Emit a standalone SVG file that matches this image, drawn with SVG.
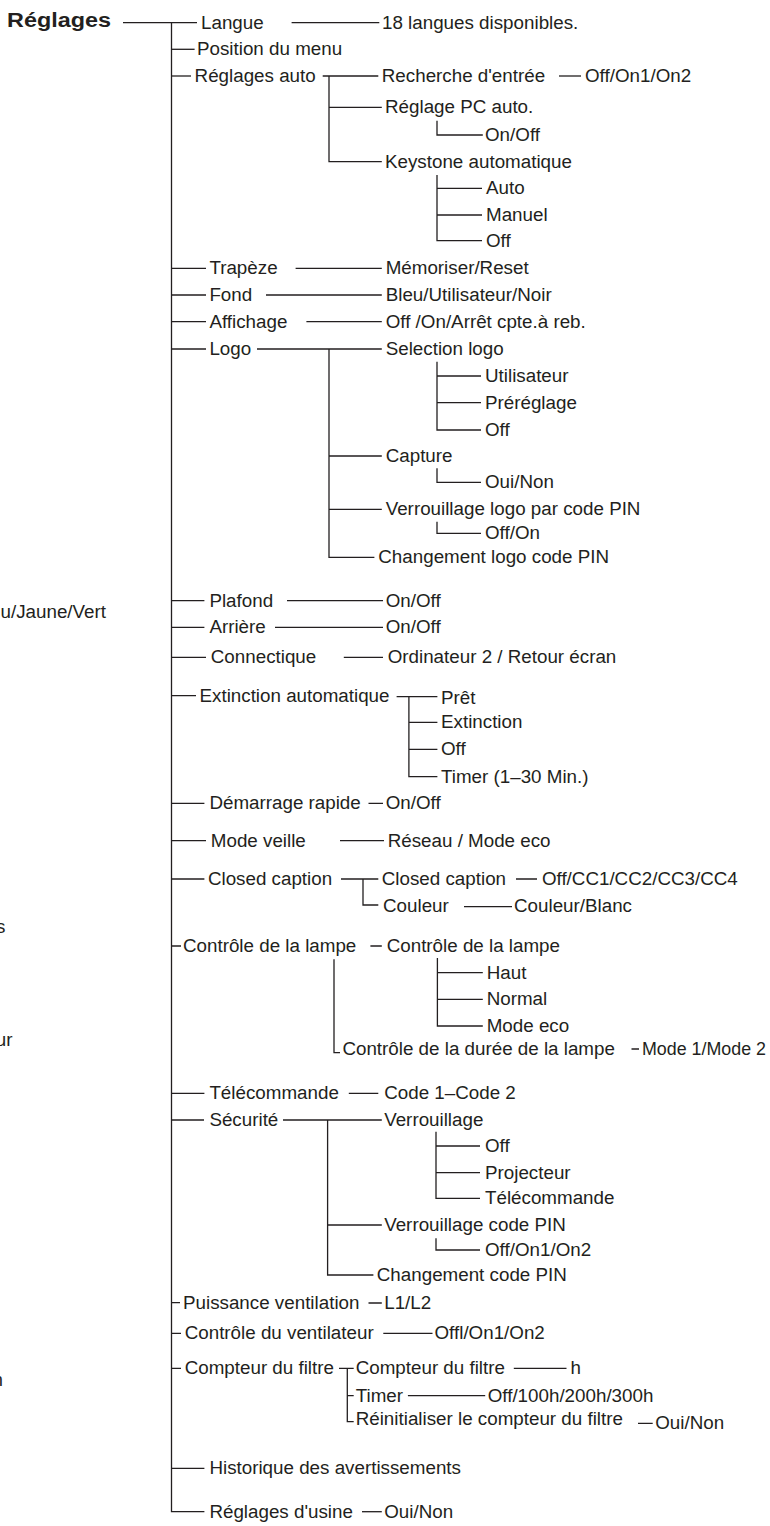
<svg xmlns="http://www.w3.org/2000/svg" width="770" height="1526" viewBox="0 0 770 1526">
<style>
text{font-family:"Liberation Sans",Arial,sans-serif;font-size:18.8px;fill:#231f20}
.title{font-weight:bold;font-size:19.5px}
#connectors path{fill:none;stroke:#231f20;stroke-width:1.3}
</style>
<rect width="770" height="1526" fill="#fff"/>
<g id="connectors">
<path d="M123,22.7H197"/>
<path d="M171.5,22.7V1511.7H204.4"/>
<path d="M291.6,22.7H379.3"/>
<path d="M171.5,49.3H194.6"/>
<path d="M171.5,76H191"/>
<path d="M322.7,76H378.3M329,76V161.7H381.8M329,107.3H381.8"/>
<path d="M559,76H581"/>
<path d="M437,120.7V135H482.8"/>
<path d="M437,175V240.7H482M437,188.3H482M437,215H482"/>
<path d="M171.5,268.3H206M295.6,268.3H381.8"/>
<path d="M171.5,295H206M266,295H381.8"/>
<path d="M171.5,321.7H206M306.4,321.7H381.8"/>
<path d="M171.5,349H206M257,349H381.8M329,349V557.3H374.4M329,456H381.8M329,509.3H381.8"/>
<path d="M437,361.7V430H481M437,376H481M437,402.7H481"/>
<path d="M437,468.3V482.3H481"/>
<path d="M437,521.7V533.3H481"/>
<path d="M171.5,600.7H204.4M287,600.7H383"/>
<path d="M171.5,627.3H204.4M275,627.3H383"/>
<path d="M171.5,657.3H206M343.8,657.3H383"/>
<path d="M171.5,695.7H196M396.6,696.7H437.4M408.9,696.7V776.7H437.4M408.9,722.3H437.4M408.9,749.3H437.4"/>
<path d="M171.5,803.3H204.4M368.5,803.3H383"/>
<path d="M171.5,840.7H206M340,840.7H384"/>
<path d="M171.5,879H204.4M341,879H378.3M363,879V905H378.3M516,879H537M464,906.7H512"/>
<path d="M171.5,946H181M370.4,946H381.8M334,959.3V1052.7H340"/>
<path d="M437.4,958V1026H482.8M437.4,972.7H482.8M437.4,999.3H482.8M631.5,1049H639"/>
<path d="M171.5,1093.3H204.4M348.8,1093.3H378.3"/>
<path d="M171.5,1120H204M283,1120H381.8M327.6,1120V1275H373.4M327.6,1225H381.8"/>
<path d="M436,1131.7V1198.3H480M436,1146H480M436,1172.7H480M436,1238.3V1250H480"/>
<path d="M171.5,1302.7H180M368.5,1303H381.8"/>
<path d="M171.5,1333.3H181M383.3,1333.3H432.5"/>
<path d="M171.5,1368.3H181M339,1368.3H353.7M347.3,1368.3V1421.7H353.7M347.3,1395.7H353.7M513.8,1368.3H566.5M407.9,1395.7H485.2M638,1423.3H652.7"/>
<path d="M171.5,1468.3H204.4"/>
<path d="M362,1511.7H381.8"/>
</g>
<g id="fragments">
<text x="106" y="618" text-anchor="end">u/Jaune/Vert</text>
<text x="5.5" y="933" text-anchor="end">s</text>
<text x="12.5" y="1046" text-anchor="end">ur</text>
<text x="3" y="1386" text-anchor="end">n</text>
</g>
<g id="n-reglages"><text class="title" x="7" y="27" textLength="104" lengthAdjust="spacingAndGlyphs">Réglages</text></g>
<g id="n-langue"><text x="201" y="28.7">Langue</text></g>
<g id="n-langue-v"><text x="382" y="28.7">18 langues disponibles.</text></g>
<g id="n-position"><text x="197" y="55.3">Position du menu</text></g>
<g id="n-auto"><text x="194.6" y="82">Réglages auto</text></g>
<g id="n-recherche"><text x="381.8" y="82">Recherche d'entrée</text></g>
<g id="n-recherche-v"><text x="585" y="82">Off/On1/On2</text></g>
<g id="n-pcauto"><text x="385" y="113.3">Réglage PC auto.</text></g>
<g id="n-pcauto-v"><text x="485" y="141">On/Off</text></g>
<g id="n-keystone"><text x="385" y="167.7">Keystone automatique</text></g>
<g id="n-ks-auto"><text x="486" y="194.3">Auto</text></g>
<g id="n-ks-manuel"><text x="486" y="221">Manuel</text></g>
<g id="n-ks-off"><text x="486" y="246.7">Off</text></g>
<g id="n-trapeze"><text x="209.4" y="274.3">Trapèze</text></g>
<g id="n-trapeze-v"><text x="385.7" y="274.3">Mémoriser/Reset</text></g>
<g id="n-fond"><text x="209.4" y="301">Fond</text></g>
<g id="n-fond-v"><text x="385.7" y="301">Bleu/Utilisateur/Noir</text></g>
<g id="n-affichage"><text x="209.4" y="327.7">Affichage</text></g>
<g id="n-affichage-v"><text x="385.7" y="327.7">Off /On/Arrêt cpte.à reb.</text></g>
<g id="n-logo"><text x="209.4" y="355">Logo</text></g>
<g id="n-sellogo"><text x="385.7" y="355">Selection logo</text></g>
<g id="n-sl-util"><text x="485" y="382">Utilisateur</text></g>
<g id="n-sl-pre"><text x="485" y="408.7">Préréglage</text></g>
<g id="n-sl-off"><text x="485" y="436">Off</text></g>
<g id="n-capture"><text x="385.7" y="462">Capture</text></g>
<g id="n-capture-v"><text x="485" y="488.3">Oui/Non</text></g>
<g id="n-verlogo"><text x="385.7" y="515.3">Verrouillage logo par code PIN</text></g>
<g id="n-verlogo-v"><text x="485" y="539.3">Off/On</text></g>
<g id="n-chglogo"><text x="378.3" y="563.3">Changement logo code PIN</text></g>
<g id="n-plafond"><text x="209.4" y="606.7">Plafond</text></g>
<g id="n-plafond-v"><text x="385.7" y="606.7">On/Off</text></g>
<g id="n-arriere"><text x="209.4" y="633.3">Arrière</text></g>
<g id="n-arriere-v"><text x="385.7" y="633.3">On/Off</text></g>
<g id="n-connectique"><text x="210.8" y="663.3">Connectique</text></g>
<g id="n-connectique-v"><text x="387.7" y="663.3">Ordinateur 2 / Retour écran</text></g>
<g id="n-extinction"><text x="199.5" y="701.7">Extinction automatique</text></g>
<g id="n-ext-pret"><text x="441" y="704">Prêt</text></g>
<g id="n-ext-ext"><text x="441" y="728.3">Extinction</text></g>
<g id="n-ext-off"><text x="441" y="755.3">Off</text></g>
<g id="n-ext-timer"><text x="441" y="782.7">Timer (1–30 Min.)</text></g>
<g id="n-demarrage"><text x="209.4" y="809.3">Démarrage rapide</text></g>
<g id="n-demarrage-v"><text x="385.7" y="809.3">On/Off</text></g>
<g id="n-veille"><text x="210.8" y="846.7">Mode veille</text></g>
<g id="n-veille-v"><text x="387.7" y="846.7">Réseau / Mode eco</text></g>
<g id="n-cc"><text x="207.9" y="885">Closed caption</text></g>
<g id="n-cc-cc"><text x="381.8" y="885">Closed caption</text></g>
<g id="n-cc-cc-v"><text x="541.9" y="885">Off/CC1/CC2/CC3/CC4</text></g>
<g id="n-cc-coul"><text x="383" y="912">Couleur</text></g>
<g id="n-cc-coul-v"><text x="514" y="912">Couleur/Blanc</text></g>
<g id="n-lampe"><text x="183" y="952">Contrôle de la lampe</text></g>
<g id="n-lampe-ctrl"><text x="386.7" y="952">Contrôle de la lampe</text></g>
<g id="n-lampe-haut"><text x="486.7" y="978.7">Haut</text></g>
<g id="n-lampe-normal"><text x="486.7" y="1005.3">Normal</text></g>
<g id="n-lampe-eco"><text x="486.7" y="1032">Mode eco</text></g>
<g id="n-lampe-duree"><text x="342.4" y="1054.5">Contrôle de la durée de la lampe</text></g>
<g id="n-lampe-duree-v"><text x="642" y="1054.5" textLength="124" lengthAdjust="spacingAndGlyphs">Mode 1/Mode 2</text></g>
<g id="n-telecommande"><text x="209.4" y="1099.3">Télécommande</text></g>
<g id="n-telecommande-v"><text x="384.2" y="1099.3">Code 1–Code 2</text></g>
<g id="n-securite"><text x="209.4" y="1126">Sécurité</text></g>
<g id="n-verr"><text x="384.2" y="1126">Verrouillage</text></g>
<g id="n-verr-off"><text x="485" y="1152">Off</text></g>
<g id="n-verr-proj"><text x="485" y="1178.7">Projecteur</text></g>
<g id="n-verr-tel"><text x="485" y="1204.3">Télécommande</text></g>
<g id="n-verrpin"><text x="384.2" y="1231">Verrouillage code PIN</text></g>
<g id="n-verrpin-v"><text x="485" y="1256">Off/On1/On2</text></g>
<g id="n-chgpin"><text x="376.8" y="1281">Changement code PIN</text></g>
<g id="n-puissance"><text x="183" y="1309">Puissance ventilation</text></g>
<g id="n-puissance-v"><text x="384.2" y="1309">L1/L2</text></g>
<g id="n-ventil"><text x="184.7" y="1339.3">Contrôle du ventilateur</text></g>
<g id="n-ventil-v"><text x="434.5" y="1339.3">Offl/On1/On2</text></g>
<g id="n-filtre"><text x="184.7" y="1374.3">Compteur du filtre</text></g>
<g id="n-filtre-cpt"><text x="355.7" y="1374.3">Compteur du filtre</text></g>
<g id="n-filtre-cpt-v"><text x="570.4" y="1374.3">h</text></g>
<g id="n-filtre-timer"><text x="355.7" y="1401.7">Timer</text></g>
<g id="n-filtre-timer-v"><text x="487.7" y="1401.7">Off/100h/200h/300h</text></g>
<g id="n-filtre-reinit"><text x="355.7" y="1425">Réinitialiser le compteur du filtre</text></g>
<g id="n-filtre-reinit-v"><text x="655.2" y="1429">Oui/Non</text></g>
<g id="n-historique"><text x="209.4" y="1474.3">Historique des avertissements</text></g>
<g id="n-usine"><text x="209.4" y="1517.7">Réglages d'usine</text></g>
<g id="n-usine-v"><text x="384.2" y="1517.7">Oui/Non</text></g>
</svg>
